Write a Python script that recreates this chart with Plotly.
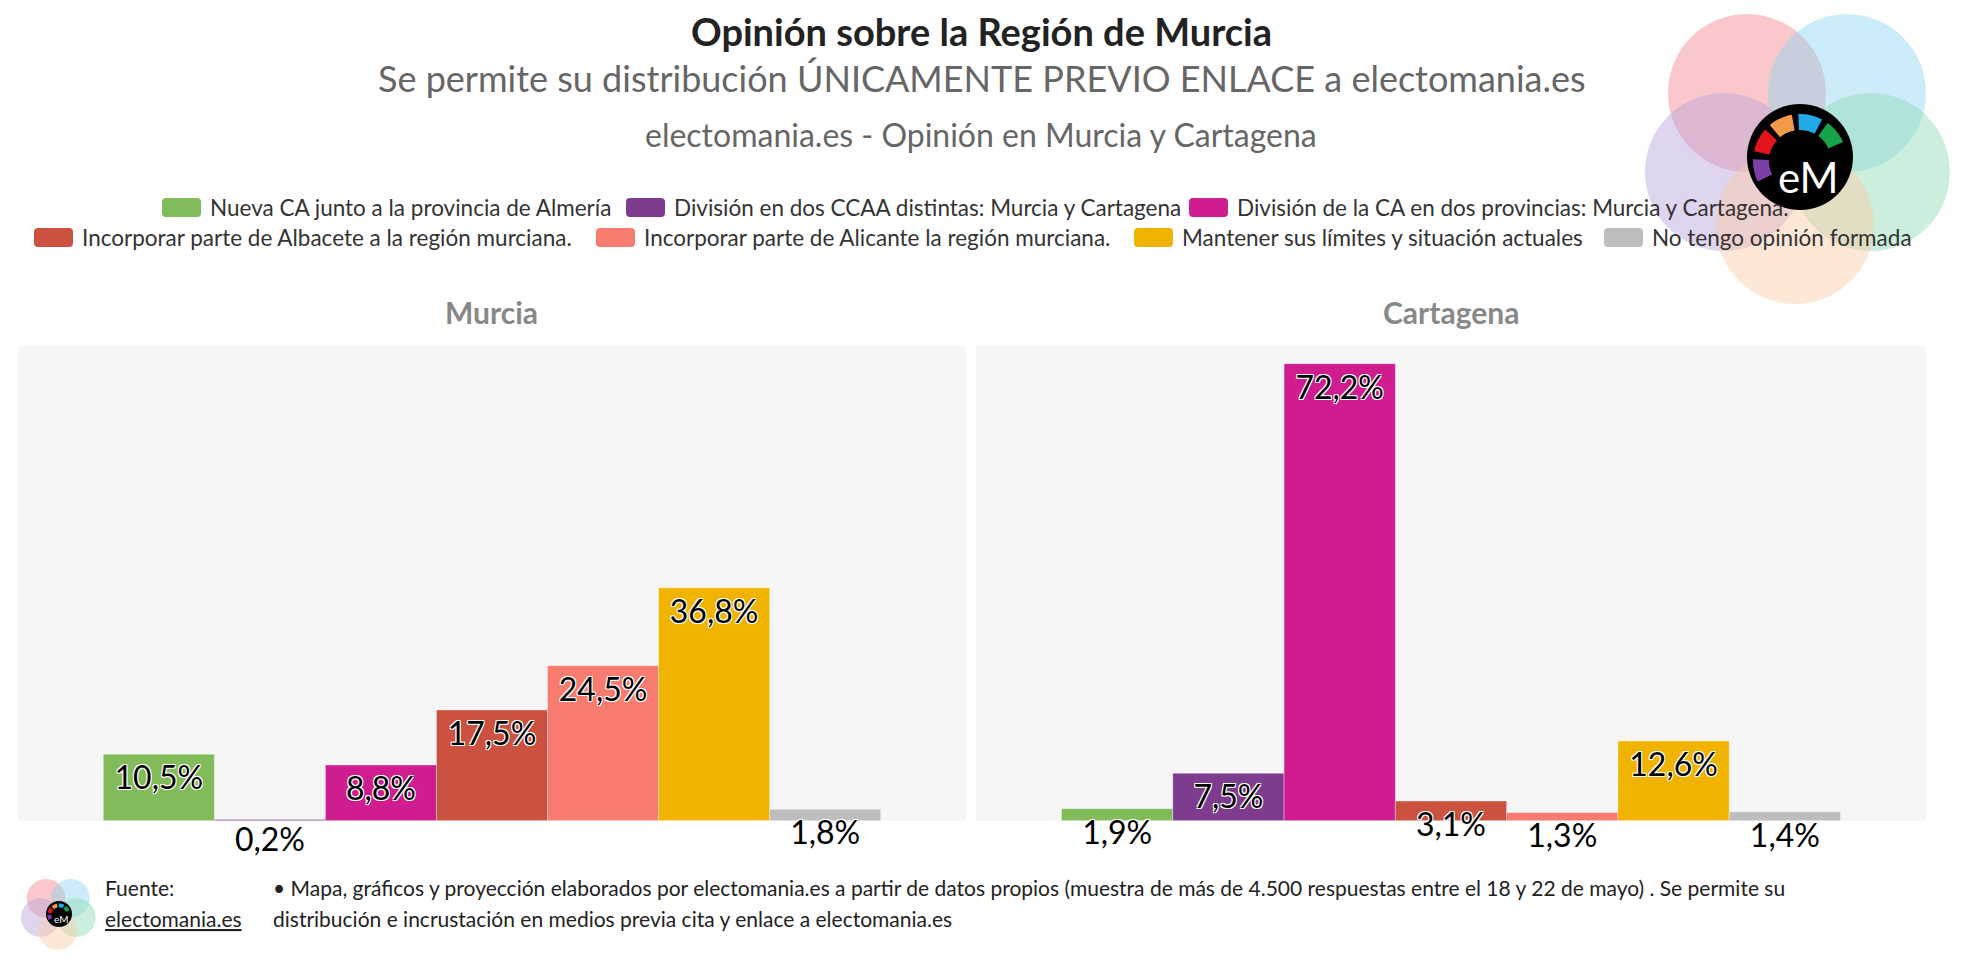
import math
import plotly.graph_objects as go

W, H = 1962, 965

# --- data -------------------------------------------------------------
regions = ["Murcia", "Cartagena"]
options = [
    "Nueva CA junto a la provincia de Almería",
    "División en dos CCAA distintas: Murcia y Cartagena",
    "División de la CA en dos provincias: Murcia y Cartagena.",
    "Incorporar parte de Albacete a la región murciana.",
    "Incorporar parte de Alicante la región murciana.",
    "Mantener sus límites y situación actuales",
    "No tengo opinión formada",
]
murcia = [10.5, 0.2, 8.8, 17.5, 24.5, 36.8, 1.8]
cartagena = [1.9, 7.5, 72.2, 3.1, 1.3, 12.6, 1.4]

colors = ["#82bc5a", "#7d3c8e", "#cf1d8f", "#cb5240", "#f87b6f", "#f0b400", "#bebebe"]

FONT = "Lato"


def px(x):
    return x / W


def py(y):
    return 1 - y / H


def fmt(v):
    return f"{v:.1f}%".replace(".", ",")


fig = go.Figure()

for i, name in enumerate(options):
    for axis, region, vals in (("x", regions[0], murcia), ("x2", regions[1], cartagena)):
        fig.add_trace(go.Bar(
            x=[region], y=[vals[i]], name=name,
            xaxis=axis, yaxis="y" if axis == "x" else "y2",
            marker=dict(color=colors[i], line=dict(color="rgba(255,255,255,0.6)", width=0.6)),
            text=[fmt(vals[i])], textposition="inside", insidetextanchor="end",
            constraintext="none", cliponaxis=False, textangle=0,
            textfont=dict(family=FONT, size=32, color="#000",
                          shadow="-1px -1px 0 #fff, 1px -1px 0 #fff, -1px 1px 0 #fff, 1px 1px 0 #fff"),
            showlegend=False,
            hovertemplate="%{x}<br>" + name + ": %{y:.1f}%<extra></extra>",
        ))

ax = dict(showticklabels=False, showgrid=False, zeroline=False, showline=False, fixedrange=True)
y_dom = [py(820.7), py(346)]

fig.update_layout(
    width=W, height=H,
    margin=dict(l=0, r=0, t=0, b=0),
    paper_bgcolor="white", plot_bgcolor="#f6f6f6",
    barmode="group", bargap=0.18, bargroupgap=0,
    font=dict(family=FONT, color="#333"),
    xaxis=dict(domain=[px(18), px(966)], **ax),
    xaxis2=dict(domain=[px(976), px(1926)], **ax),
    yaxis=dict(domain=y_dom, range=[0, 75], **ax),
    yaxis2=dict(domain=y_dom, range=[0, 75], anchor="x2", **ax),
    showlegend=False,
)

# --- legend: rounded swatches + labels, two centred rows ---------------
legend_spots = [(162, 207.5), (626, 207.5), (1189, 207.5),
                (34, 237.5), (596, 237.5), (1134, 237.5), (1604, 237.5)]
sw_w, sw_h, rad = 39, 19, 4


def rounded_rect(x0, y0, x1, y1, r):
    pts = [
        f"M {px(x0 + r)},{py(y0)}", f"L {px(x1 - r)},{py(y0)}",
        f"Q {px(x1)},{py(y0)} {px(x1)},{py(y0 + r)}", f"L {px(x1)},{py(y1 - r)}",
        f"Q {px(x1)},{py(y1)} {px(x1 - r)},{py(y1)}", f"L {px(x0 + r)},{py(y1)}",
        f"Q {px(x0)},{py(y1)} {px(x0)},{py(y1 - r)}", f"L {px(x0)},{py(y0 + r)}",
        f"Q {px(x0)},{py(y0)} {px(x0 + r)},{py(y0)}", "Z",
    ]
    return " ".join(pts)


for (lx, ly), name, c in zip(legend_spots, options, colors):
    fig.add_shape(type="path", xref="paper", yref="paper", fillcolor=c, line_width=0,
                  path=rounded_rect(lx, ly - sw_h / 2, lx + sw_w, ly + sw_h / 2, rad))
    fig.add_annotation(text=name, x=px(lx + sw_w + 7), y=py(ly), xref="paper", yref="paper",
                       xanchor="left", yanchor="middle", showarrow=False,
                       font=dict(family=FONT, size=22.5, color="#333"))

# --- titles -----------------------------------------------------------
texts = [
    ("<b>Opinión sobre la Región de Murcia</b>", 981, 31, 38, "#222"),
    ("Se permite su distribución ÚNICAMENTE PREVIO ENLACE a electomania.es", 982, 78, 36, "#666"),
    ("electomania.es - Opinión en Murcia y Cartagena", 981, 134, 32, "#666"),
    ("<b>Murcia</b>", 492, 312, 30, "#888"),
    ("<b>Cartagena</b>", 1451, 312, 30, "#888"),
]
for t, x, y, s, c in texts:
    fig.add_annotation(text=t, x=px(x), y=py(y), xref="paper", yref="paper",
                       xanchor="center", yanchor="middle", showarrow=False,
                       font=dict(family=FONT, size=s, color=c))

# --- footer -----------------------------------------------------------
foot = [
    ("Fuente:", 103, 887),
    ("<u>electomania.es</u>", 103, 918),
    ("• Mapa, gráficos y proyección elaborados por electomania.es a partir de datos propios "
     "(muestra de más de 4.500 respuestas entre el 18 y 22 de mayo) . Se permite su", 271, 887),
    ("distribución e incrustación en medios previa cita y enlace a electomania.es", 271, 918),
]
for t, x, y in foot:
    fig.add_annotation(text=t, x=px(x), y=py(y), xref="paper", yref="paper",
                       xanchor="left", yanchor="middle", showarrow=False,
                       font=dict(family=FONT, size=21, color="#222"))


# --- logo -------------------------------------------------------------
def circle(cx, cy, r, color, opacity):
    fig.add_shape(type="circle", xref="paper", yref="paper",
                  x0=px(cx - r), x1=px(cx + r), y0=py(cy + r), y1=py(cy - r),
                  fillcolor=color, opacity=opacity, line_width=0, layer="above")


def wedge(cx, cy, r0, r1, a0, a1, color):
    pts = []
    n = 8
    for k in range(n + 1):
        a = math.radians(a0 + (a1 - a0) * k / n)
        pts.append((cx + r1 * math.cos(a), cy - r1 * math.sin(a)))
    for k in range(n, -1, -1):
        a = math.radians(a0 + (a1 - a0) * k / n)
        pts.append((cx + r0 * math.cos(a), cy - r0 * math.sin(a)))
    path = "M " + " L ".join(f"{px(x):.5f},{py(y):.5f}" for x, y in pts) + " Z"
    fig.add_shape(type="path", path=path, xref="paper", yref="paper",
                  fillcolor=color, line_width=0, layer="above")


def logo(cx, cy, s, label_size):
    petals = [(-53, -64, "#f4868c"), (47, -64, "#8fd4f2"), (-76, 15, "#b9a2dc"),
              (71, 15, "#8fd9b1"), (-5, 68, "#fbc9a3")]
    for dx, dy, c in petals:
        circle(cx + dx * s, cy + dy * s, 79 * s, c, 0.45)
    circle(cx, cy, 53 * s, "#000", 1)
    segs = [(178, 206, "#7b3fa8"), (138, 168, "#e3141b"), (100, 130, "#f39a4a"),
            (62, 92, "#22a9e8"), (24, 54, "#16a34a")]
    for a0, a1, c in segs:
        wedge(cx, cy + 4 * s, 31 * s, 47 * s, a0, a1, c)
    fig.add_annotation(text="eM", x=px(cx + 8 * s), y=py(cy + 20 * s), xref="paper", yref="paper",
                       showarrow=False, xanchor="center", yanchor="middle",
                       font=dict(family=FONT, size=label_size, color="white"))


logo(1800, 157, 1.0, 42)
logo(59, 914, 0.245, 10)

# page body has a default margin; drop it so the figure sits at the window's corner
fig.write_html("out.html", config={"displayModeBar": False},
               post_script="document.body.style.margin='0px';")
